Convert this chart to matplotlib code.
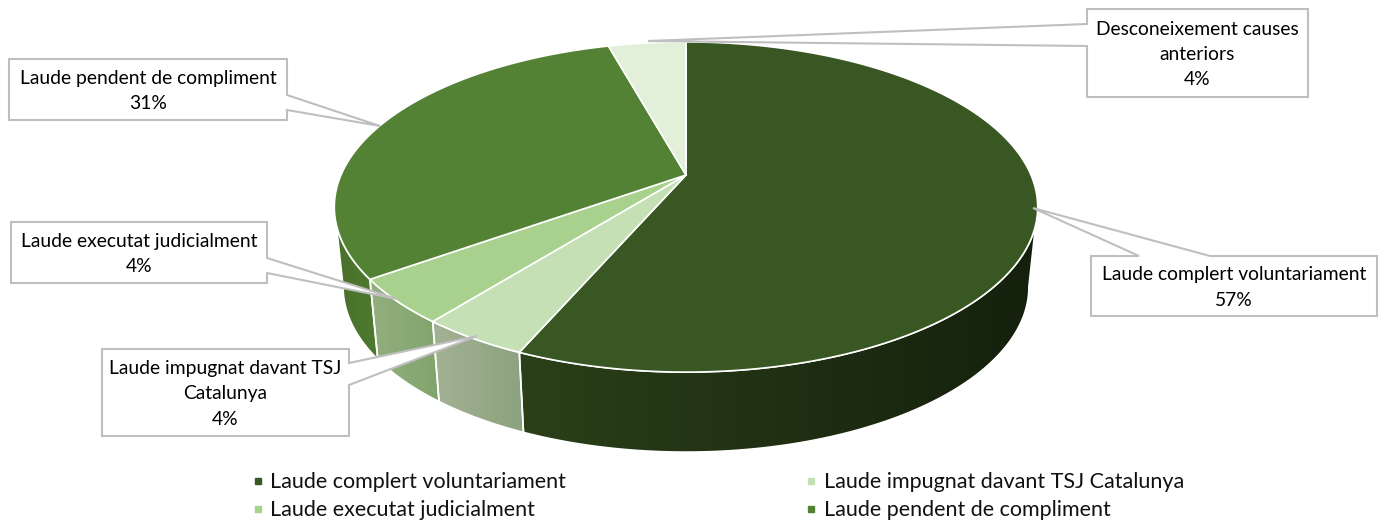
import numpy as np
import matplotlib
matplotlib.use('Agg')
import matplotlib.pyplot as plt
from matplotlib.colors import LinearSegmentedColormap
from matplotlib.patches import Polygon

plt.rcParams['font.family'] = ['Lato', 'DejaVu Sans']

# Data
names = ['Laude complert voluntariament', 'Laude impugnat davant TSJ Catalunya',
         'Laude executat judicialment', 'Laude pendent de compliment',
         'Desconeixement causes anteriors']
values = [56.5, 4.2, 4.4, 30.6, 4.3]
pct_labels = ['57%', '4%', '4%', '31%', '4%']
top_colors = ['#385723', '#c5e0b4', '#a9d18e', '#548235', '#e2f0d9']
wall_left = ['#2b4019', '#a3b294', '#93af7e', '#4a6f2b', '#e2f0d9']
wall_right = ['#14200d', '#8ca27e', '#80a46c', '#4e7a30', '#e2f0d9']

# Perspective of the disc, in pixels
apex_x, apex_y = 686, 175
size_x, size_y, persp = 345, -124.9, 0.194
depth, shrink = 80, 0.975

fig = plt.figure(figsize=(13.89, 5.23), dpi=100)
ax = fig.add_axes([0, 0, 1, 1])


def top_edge(t):
    u, v = np.sin(np.radians(t)), np.cos(np.radians(t))
    w = 1 + persp * v
    return apex_x + size_x * u / w, (apex_y + size_y * v) / w


def bottom_edge(t):
    x, y = top_edge(t)
    return apex_x + (x - apex_x) * shrink, y + depth


edges = np.concatenate([[0], np.cumsum(values)]) / sum(values) * 360
vis_start, vis_end = 101, 259

# side walls, only the part facing the viewer
for i in range(len(values)):
    t0, t1 = max(edges[i], vis_start), min(edges[i + 1], vis_end)
    if t1 <= t0:
        continue
    ts = np.linspace(t0, t1, 200)
    tx, ty = top_edge(ts)
    bx, by = bottom_edge(ts[::-1])
    pts = np.column_stack([np.r_[tx, bx], np.r_[ty, by]])
    poly = Polygon(pts, closed=True, fc='none', ec='none')
    ax.add_patch(poly)
    # gradient runs left to right on the screen
    cmap = LinearSegmentedColormap.from_list('w', [wall_left[i], wall_right[i]])
    img = ax.imshow(np.linspace(0, 1, 256).reshape(1, -1), cmap=cmap, aspect='auto',
                    extent=[pts[:, 0].min(), pts[:, 0].max(), pts[:, 1].max(), pts[:, 1].min()],
                    zorder=1)
    img.set_clip_path(poly)
    ax.add_patch(Polygon(pts, closed=True, fc='none', ec='white', lw=1.2, zorder=2))

# top of the pie
for i in range(len(values)):
    ts = np.linspace(edges[i], edges[i + 1], 300)
    tx, ty = top_edge(ts)
    pts = np.column_stack([np.r_[apex_x, tx], np.r_[apex_y, ty]])
    ax.add_patch(Polygon(pts, closed=True, fc=top_colors[i], ec='white', lw=1.2, zorder=3))

# callouts: box, two pointer base points, tip
callouts = [
    ((1091, 256, 1377, 316), (1139, 256), (1210, 256), (1033, 208), 'Laude complert voluntariament\n57%'),
    ((102, 349, 349, 436), (349, 363), (349, 385), (477, 336), 'Laude impugnat davant TSJ\nCatalunya\n4%'),
    ((11, 222, 267, 283), (267, 258), (267, 273), (397, 299), 'Laude executat judicialment\n4%'),
    ((9, 59, 287, 120), (287, 95), (287, 110), (380, 126), 'Laude pendent de compliment\n31%'),
    ((1087, 9, 1308, 97), (1087, 24), (1087, 46), (648, 41), 'Desconeixement causes\nanteriors\n4%'),
]
for box, b0, b1, tip, txt in callouts:
    x0, y0, x1, y1 = box
    if b0[0] == x0:
        pts = [(x0, y0), (x1, y0), (x1, y1), (x0, y1), b1, tip, b0]
    elif b0[0] == x1:
        pts = [(x0, y0), (x1, y0), b0, tip, b1, (x1, y1), (x0, y1)]
    else:
        pts = [(x0, y0), b0, tip, b1, (x1, y0), (x1, y1), (x0, y1)]
    ax.add_patch(Polygon(pts, closed=True, fc='white', ec='#bfbfbf', lw=1.5, zorder=4))
    ax.text((x0 + x1) / 2, (y0 + y1) / 2 + 1.5, txt, ha='center', va='center', fontsize=13.9,
            color='black', linespacing=1.6, zorder=5)

# legend, the fifth entry does not fit in the original
legend_order = [0, 1, 2, 3]
legend_x = [258, 811]
legend_y = [481, 509]
for n, i in enumerate(legend_order):
    lx, ly = legend_x[n % 2], legend_y[n // 2]
    ax.plot(lx, ly, marker='s', ms=5, color=top_colors[i], ls='none', zorder=5)
    ax.text(lx + 12.5, ly + 1, names[i], ha='left', va='center', fontsize=15.5, color='#111111', zorder=5)

ax.set_xlim(0, 1389)
ax.set_ylim(523, 0)
ax.axis('off')
fig.savefig('out.png', dpi=100, facecolor='white')
